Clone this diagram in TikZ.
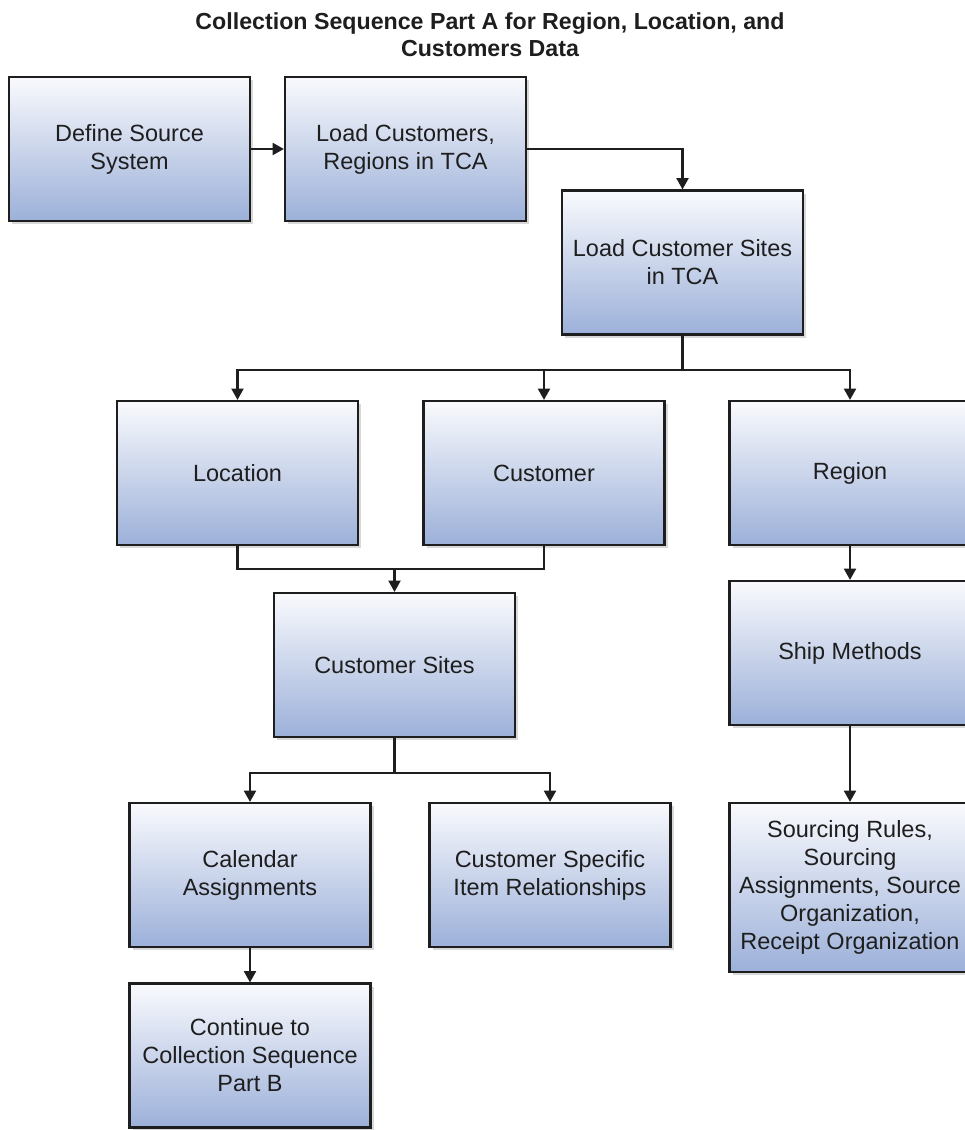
\documentclass[tikz,border=0pt]{standalone}
\usepackage{fontspec}
\setmainfont{Liberation Sans}
\usepackage{tikz}
\usepackage{xcolor}
\usetikzlibrary{arrows.meta,shadows}

\definecolor{boxtop}{RGB}{249,250,253}
\definecolor{boxbottom}{RGB}{156,176,217}
\definecolor{boxline}{RGB}{30,30,30}

\begin{document}
\begin{tikzpicture}[x=0.75pt,y=-0.75pt,
    stepbox/.style={rectangle, draw=boxline, line width=1.6pt,
        top color=boxtop, bottom color=boxbottom,
        drop shadow={shadow xshift=2.5pt, shadow yshift=-2.5pt, fill=black!30, opacity=0.5},
        minimum width=180.75pt, minimum height=108pt, inner sep=2pt,
        align=center, text=boxline,
        font=\fontsize{17.6}{21}\selectfont},
    flow/.style={draw=boxline, line width=1.6pt, -{Triangle[length=8.5pt,width=9pt]}},
    wire/.style={draw=boxline, line width=1.6pt}]

        % Page frame
        \useasboundingbox (0,0) rectangle (964,1130);

        % Title
        \node[align=center, text=boxline, font=\bfseries\fontsize{17.4}{20.5}\selectfont] (title) at (490,34.5)
            {Collection Sequence Part A for Region, Location, and\\Customers Data};

        % Draw the boxes
        \node[stepbox] (source) at (129.5,149) {Define Source\\System};
        \node[stepbox] (loadcust) at (405.5,149) {Load Customers,\\Regions in TCA};
        \node[stepbox] (loadsites) at (682.5,262.5) {Load Customer Sites\\in TCA};
        \node[stepbox] (location) at (237.5,473) {Location};
        \node[stepbox] (customer) at (544,473) {Customer};
        \node[stepbox] (region) at (850,473) {Region};
        \node[stepbox] (sites) at (394.5,665) {Customer Sites};
        \node[stepbox] (ship) at (850,653) {Ship Methods};
        \node[stepbox] (calendar) at (250,875) {Calendar\\Assignments};
        \node[stepbox] (items) at (550,875) {Customer Specific\\Item Relationships};
        \node[stepbox, minimum height=126.75pt] (sourcing) at (850,887.5)
            {Sourcing Rules,\\Sourcing\\Assignments, Source\\Organization,\\Receipt Organization};
        \node[stepbox] (continue) at (250,1055.5) {Continue to\\Collection Sequence\\Part B};

        % Branch points
        \coordinate (split1) at (682.5,370);
        \coordinate (join) at (394.5,569);
        \coordinate (split2) at (394.5,773);

        % Draw the connectors
        \draw[flow] (source) -- (loadcust);
        \draw[flow] (loadcust.east) -| (loadsites.north);
        \draw[wire] (loadsites.south) -- (split1);
        \foreach \target in {location,customer,region} {
            \draw[flow] (split1) -| (\target.north);
        }
        \draw[wire] (location.south) |- (join);
        \draw[wire] (customer.south) |- (join);
        \draw[flow] (join) -- (sites.north);
        \draw[wire] (sites.south) -- (split2);
        \draw[flow] (split2) -| (calendar.north);
        \draw[flow] (split2) -| (items.north);
        \draw[flow] (calendar) -- (continue);
        \draw[flow] (region) -- (ship);
        \draw[flow] (ship) -- (sourcing);
    \end{tikzpicture}
\end{document}
